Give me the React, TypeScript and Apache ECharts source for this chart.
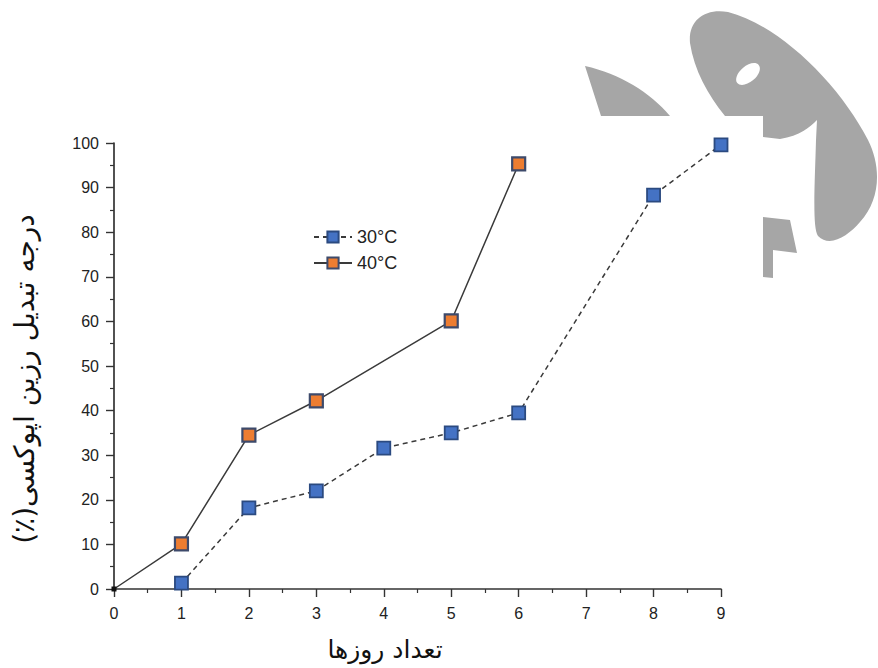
import React, { useEffect, useRef } from "react";
import * as echarts from "echarts";

const days30 = [1, 2, 3, 4, 5, 6, 8, 9];
const conv30 = [1.3, 18.2, 22, 31.6, 35, 39.5, 88.3, 99.6];
const days40 = [0, 1, 2, 3, 5, 6];
const conv40 = [0, 10.1, 34.5, 42.2, 60.1, 95.3];
const seriesNames = ["30°C", "40°C"];
const xTitle = "تعداد روزها";
const yTitle = "درجه تبدیل رزین اپوکسی(٪)\u200F";

const WM_PATH =
  "M690,43 C688,20 705,8 728,12 C780,25 840,85 868,140 C882,168 880,200 860,222 C848,236 830,248 818,236 C812,228 815,180 816,140 L817,120 C810,127 800,136 780,139 L763,137 L763,116 L725,116 C708,95 694,70 690,43 Z " +
  "M585,66 C620,74 650,92 670,116 L601,116 Z " +
  "M763,217 L790,220 L797,253 L773,250 L773,278 L763,277 Z";

let registered = false;
function ensureShape() {
  if (registered) return;
  echarts.graphic.registerShape("wmlogo", echarts.graphic.extendPath(WM_PATH, {}));
  registered = true;
}

export default function App() {
  const ref = useRef<HTMLDivElement>(null);
  useEffect(() => {
    if (!ref.current) return;
    ensureShape();
    const chart = echarts.init(ref.current, null, { renderer: "svg" });
    const axisColor = "#333";
    const numFont = "Liberation Sans, Arial, sans-serif";
    const data30 = days30.map((d, i) => [d, conv30[i]]);
    const data40 = days40.map((d, i) =>
      d === 0
        ? { value: [d, conv40[i]], symbolSize: 5, itemStyle: { color: "#111", borderWidth: 0 } }
        : { value: [d, conv40[i]] }
    );
    chart.setOption({
      animation: false,
      backgroundColor: "#fff",
      grid: {
        left: 114,
        right: 157,
        top: 143,
        bottom: 79,
        containLabel: false,
        outerBoundsMode: "none",
      },
      graphic: [
        {
          type: "wmlogo",
          x: 0,
          y: 0,
          z: 0,
          silent: true,
          style: { fill: "#a6a6a6" },
        },
        {
          type: "ellipse",
          z: 0,
          silent: true,
          x: 748,
          y: 74,
          rotation: 0.7,
          shape: { cx: 0, cy: 0, rx: 14, ry: 8 },
          style: { fill: "#fff" },
        },
      ],
      legend: {
        left: 313,
        top: 228,
        padding: 0,
        orient: "vertical",
        itemWidth: 38,
        itemHeight: 14,
        itemGap: 8,
        data: seriesNames,
        textStyle: { fontFamily: numFont, fontSize: 18, color: "#222", lineHeight: 18 },
      },
      xAxis: {
        type: "value",
        min: 0,
        max: 9,
        interval: 1,
        name: xTitle,
        nameLocation: "middle",
        nameGap: 48,
        nameTextStyle: {
          fontFamily: "DejaVu Sans, sans-serif",
          fontSize: 25,
          color: "#111",
          padding: [0, 65, 0, 0],
        },
        axisLine: { lineStyle: { color: axisColor, width: 1.7 } },
        axisTick: { length: 8, lineStyle: { color: axisColor, width: 1.4 } },
        minorTick: { show: true, splitNumber: 2, length: 4, lineStyle: { color: axisColor, width: 1.2 } },
        splitLine: { show: false },
        axisLabel: { margin: 16, fontSize: 16, color: "#222", fontFamily: numFont },
      },
      yAxis: {
        type: "value",
        min: 0,
        max: 100,
        interval: 10,
        name: yTitle,
        nameLocation: "middle",
        nameGap: 76,
        nameRotate: 90,
        nameTextStyle: {
          fontFamily: "DejaVu Sans, sans-serif",
          fontSize: 28,
          color: "#111",
          padding: [0, 26, 0, 0],
        },
        axisLine: { show: true, lineStyle: { color: axisColor, width: 1.7 } },
        axisTick: { show: true, length: 8, lineStyle: { color: axisColor, width: 1.4 } },
        minorTick: { show: true, splitNumber: 2, length: 4, lineStyle: { color: axisColor, width: 1.2 } },
        splitLine: { show: false },
        axisLabel: { margin: 15, fontSize: 16, color: "#222", fontFamily: numFont },
      },
      series: [
        {
          name: seriesNames[0],
          type: "line",
          data: data30,
          symbol: "rect",
          symbolSize: 13,
          z: 3,
          lineStyle: { color: "#3a3a3a", width: 1.5, type: [5, 4] },
          itemStyle: { color: "#4472c4", borderColor: "#2b4a80", borderWidth: 1.8 },
        },
        {
          name: seriesNames[1],
          type: "line",
          data: data40,
          symbol: "rect",
          symbolSize: 13,
          z: 3,
          lineStyle: { color: "#3a3a3a", width: 1.5, type: "solid" },
          itemStyle: { color: "#ed7d31", borderColor: "#3d4a6b", borderWidth: 2.2 },
        },
      ],
    });
    return () => chart.dispose();
  }, []);
  return (
    <div
      ref={ref}
      style={{ position: "fixed", left: 0, top: 0, width: 878, height: 668, background: "#fff" }}
    />
  );
}
